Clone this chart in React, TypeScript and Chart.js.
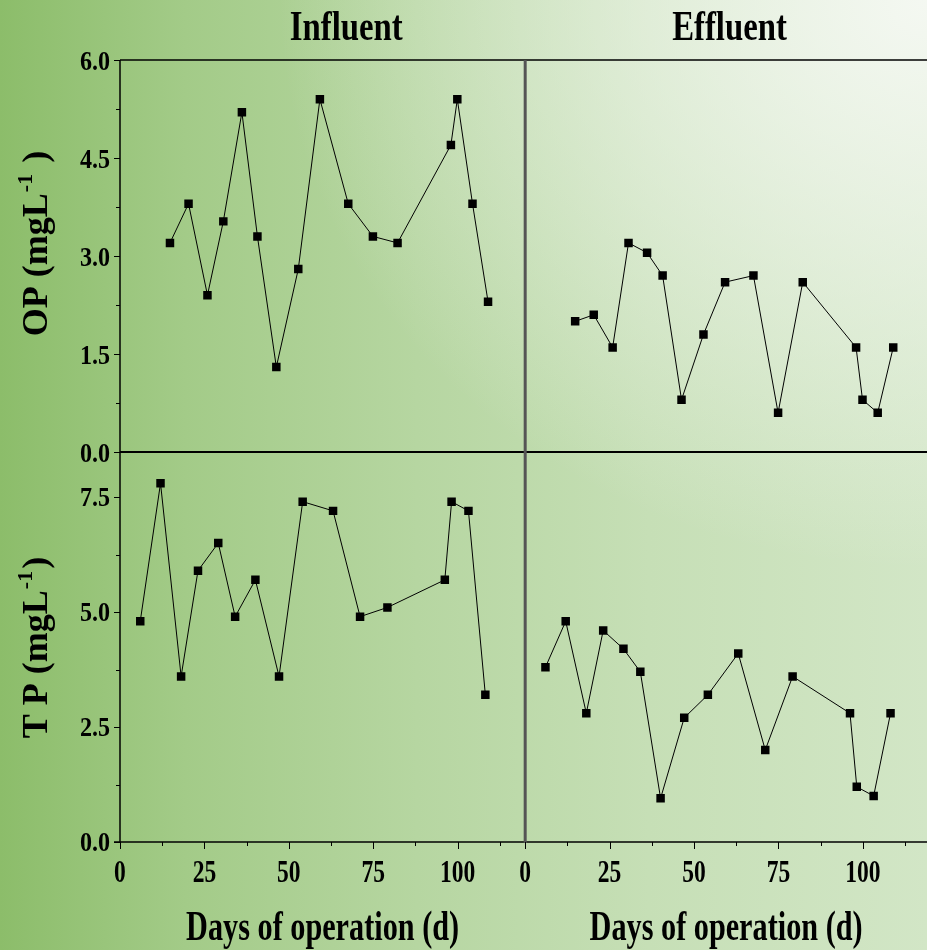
import React, { useEffect, useRef } from "react";
import { Chart, registerables } from "chart.js";

Chart.register(...registerables);

// ---- data ----
const opDays = [14.8, 20.3, 25.9, 30.6, 36.1, 40.7, 46.3, 52.8, 59.2, 67.6, 74.9, 82.2, 98.0, 99.9, 104.4, 109.0];
const opInfluent = [3.2, 3.8, 2.4, 3.53, 5.2, 3.3, 1.3, 2.8, 5.4, 3.8, 3.3, 3.2, 4.7, 5.4, 3.8, 2.3];
const opEffluent = [2.0, 2.1, 1.6, 3.2, 3.05, 2.7, 0.8, 1.8, 2.6, 2.7, 0.6, 2.6, 1.6, 0.8, 0.6, 1.6];

const tpDays = [6.0, 12.0, 18.1, 23.1, 29.1, 34.1, 40.1, 47.1, 54.1, 63.1, 71.1, 79.2, 96.2, 98.2, 103.2, 108.2];
const tpInfluent = [4.8, 7.8, 3.6, 5.9, 6.5, 4.9, 5.7, 3.6, 7.4, 7.2, 4.9, 5.1, 5.7, 7.4, 7.2, 3.2];
const tpEffluent = [3.8, 4.8, 2.8, 4.6, 4.2, 3.7, 0.95, 2.7, 3.2, 4.1, 2.0, 3.6, 2.8, 1.2, 1.0, 2.8];

const xTicks = [0, 25, 50, 75, 100];
const xMinorTicks = [12.5, 37.5, 62.5, 87.5, 112.5];
const opTicks = [0, 1.5, 3, 4.5, 6];
const opMinorTicks = [0.75, 2.25, 3.75, 5.25];
const tpTicks = [0, 2.5, 5, 7.5];
const tpMinorTicks = [1.25, 3.75, 6.25];
const panelTitles = ["Influent", "Effluent"];
const xTitle = "Days of operation (d)";
const opTitle = ["OP (mgL", "-1", " )"];
const tpTitle = ["T P (mgL", "-1", ")"];

const FONT = '"Liberation Serif", "Times New Roman", serif';

function pts(xs: number[], ys: number[]) {
  return xs.map((x, i) => ({ x, y: ys[i] }));
}

function scaledText(ctx: CanvasRenderingContext2D, text: string, x: number, y: number, size: number, sx: number, align: CanvasTextAlign) {
  ctx.save();
  ctx.font = `bold ${size}px ${FONT}`;
  ctx.translate(x, y);
  ctx.scale(sx, 1);
  ctx.textAlign = align;
  ctx.textBaseline = "alphabetic";
  ctx.fillStyle = "#000";
  ctx.fillText(text, 0, 0);
  ctx.restore();
}

function rotatedTitle(ctx: CanvasRenderingContext2D, parts: string[], xBase: number, yCenter: number) {
  const big = `bold 36px ${FONT}`;
  const small = `bold 22px ${FONT}`;
  ctx.save();
  ctx.font = big;
  const w1 = ctx.measureText(parts[0]).width;
  const w3 = ctx.measureText(parts[2]).width;
  ctx.font = small;
  const w2 = ctx.measureText(parts[1]).width + 2;
  const total = w1 + w2 + w3;
  ctx.translate(xBase, yCenter);
  ctx.rotate(-Math.PI / 2);
  ctx.fillStyle = "#000";
  ctx.textBaseline = "alphabetic";
  ctx.textAlign = "left";
  let px = -total / 2;
  ctx.font = big;
  ctx.fillText(parts[0], px, 0);
  px += w1 + 1;
  ctx.font = small;
  ctx.fillText(parts[1], px, -15);
  px += w2;
  ctx.font = big;
  ctx.fillText(parts[2], px, 0);
  ctx.restore();
}

const framePlugin = {
  id: "frame",
  beforeDatasetsDraw(chart: any) {
    const ctx: CanvasRenderingContext2D = chart.ctx;
    const { xL, xR, yTop, yBot } = chart.scales;
    const left = xL.getPixelForValue(0);
    const mid = xR.getPixelForValue(0);
    const right = chart.width;
    const top = yTop.getPixelForValue(6);
    const midY = yTop.getPixelForValue(0);
    const bottom = yBot.getPixelForValue(0);
    ctx.save();
    ctx.strokeStyle = "#000";
    ctx.lineWidth = 1.5;
    ctx.beginPath(); ctx.moveTo(left, top); ctx.lineTo(right, top); ctx.stroke();
    ctx.lineWidth = 2;
    ctx.beginPath(); ctx.moveTo(left, midY); ctx.lineTo(right, midY); ctx.stroke();
    ctx.lineWidth = 1.5;
    ctx.beginPath(); ctx.moveTo(left - 6, bottom); ctx.lineTo(right, bottom); ctx.stroke();
    ctx.beginPath(); ctx.moveTo(left, top); ctx.lineTo(left, bottom); ctx.stroke();
    ctx.strokeStyle = "#555";
    ctx.lineWidth = 3;
    ctx.beginPath(); ctx.moveTo(mid, top); ctx.lineTo(mid, bottom + 1); ctx.stroke();
    ctx.strokeStyle = "#000";
    ctx.lineWidth = 1;
    const yt = (scale: any, vals: number[], len: number) => {
      vals.forEach((v) => {
        const y = Math.round(scale.getPixelForValue(v)) + 0.5;
        ctx.beginPath(); ctx.moveTo(left - len, y); ctx.lineTo(left, y); ctx.stroke();
      });
    };
    yt(yTop, opTicks, 6); yt(yTop, opMinorTicks, 4);
    yt(yBot, tpTicks, 6); yt(yBot, tpMinorTicks, 4);
    const xt = (scale: any, vals: number[], len: number) => {
      vals.forEach((v) => {
        const x = Math.round(scale.getPixelForValue(v)) + 0.5;
        ctx.beginPath(); ctx.moveTo(x, bottom); ctx.lineTo(x, bottom + len); ctx.stroke();
      });
    };
    xt(xL, xTicks, 7); xt(xL, xMinorTicks, 4);
    xt(xR, xTicks, 7); xt(xR, xMinorTicks, 4);
    ctx.restore();
  },
  afterDraw(chart: any) {
    const ctx: CanvasRenderingContext2D = chart.ctx;
    const { xL, xR, yTop, yBot } = chart.scales;
    const left = xL.getPixelForValue(0);
    const bottom = yBot.getPixelForValue(0);
    opTicks.forEach((v) => scaledText(ctx, v.toFixed(1), left - 10, yTop.getPixelForValue(v) + 10, 28, 0.86, "right"));
    tpTicks.forEach((v) => scaledText(ctx, v.toFixed(1), left - 10, yBot.getPixelForValue(v) + 9, 28, 0.86, "right"));
    [xL, xR].forEach((s) => {
      xTicks.forEach((v) => scaledText(ctx, String(v), s.getPixelForValue(v), bottom + 40, 31, 0.76, "center"));
    });
    const lc = (xL.getPixelForValue(0) + xR.getPixelForValue(0)) / 2;
    const rc = (xR.getPixelForValue(0) + chart.width) / 2;
    scaledText(ctx, xTitle, lc, bottom + 98, 42, 0.72, "center");
    scaledText(ctx, xTitle, rc, bottom + 98, 42, 0.72, "center");
    scaledText(ctx, panelTitles[0], xL.getPixelForValue(67), 40, 42, 0.78, "center");
    scaledText(ctx, panelTitles[1], xR.getPixelForValue(60.5), 40, 42, 0.78, "center");
    rotatedTitle(ctx, opTitle, 47, (yTop.top + yTop.bottom) / 2 - 12);
    rotatedTitle(ctx, tpTitle, 47, (yBot.top + yBot.bottom) / 2 + 1);
  },
};

export default function App() {
  const ref = useRef<HTMLCanvasElement | null>(null);
  useEffect(() => {
    if (!ref.current) return;
    const ds = (data: any, xAxisID: string, yAxisID: string) => ({
      data,
      xAxisID,
      yAxisID,
      borderColor: "#000",
      borderWidth: 1,
      backgroundColor: "#000",
      pointStyle: "rect",
      pointRadius: 6,
      pointBorderWidth: 0,
      pointBackgroundColor: "#000",
      tension: 0,
      fill: false,
    });
    const chart = new Chart(ref.current, {
      type: "line",
      data: {
        datasets: [
          ds(pts(opDays, opInfluent), "xL", "yTop"),
          ds(pts(opDays, opEffluent), "xR", "yTop"),
          ds(pts(tpDays, tpInfluent), "xL", "yBot"),
          ds(pts(tpDays, tpEffluent), "xR", "yBot"),
        ] as any,
      },
      options: {
        animation: false,
        responsive: false,
        maintainAspectRatio: false,
        devicePixelRatio: 1,
        layout: { autoPadding: false, padding: { left: 120, top: 60, right: 0, bottom: 108 } },
        plugins: { legend: { display: false }, tooltip: { enabled: false }, title: { display: false } },
        scales: {
          xL: { type: "linear", position: "bottom", stack: "x", stackWeight: 120, min: 0, max: 120, display: false },
          xR: { type: "linear", position: "bottom", stack: "x", stackWeight: 119, min: 0, max: 119, display: false },
          yBot: { type: "linear", position: "left", stack: "y", stackWeight: 390, min: 0, max: 8.48, display: false },
          yTop: { type: "linear", position: "left", stack: "y", stackWeight: 392, min: 0, max: 6, display: false },
        },
      } as any,
      plugins: [framePlugin],
    });
    return () => chart.destroy();
  }, []);
  return (
    <div
      style={{
        position: "absolute",
        left: 0,
        top: 0,
        width: 927,
        height: 950,
        overflow: "hidden",
        background:
          "radial-gradient(ellipse 70% 60% at 100% 0%, rgba(246,249,244,0.95) 0%, rgba(246,249,244,0) 100%), linear-gradient(90deg, #8cbd6a 0%, #a3cb88 20%, #b6d6a1 45%, #c6dfb6 70%, #d2e6c6 100%)",
      }}
    >
      <canvas ref={ref} width={927} height={950} style={{ display: "block", width: 927, height: 950 }} />
    </div>
  );
}
